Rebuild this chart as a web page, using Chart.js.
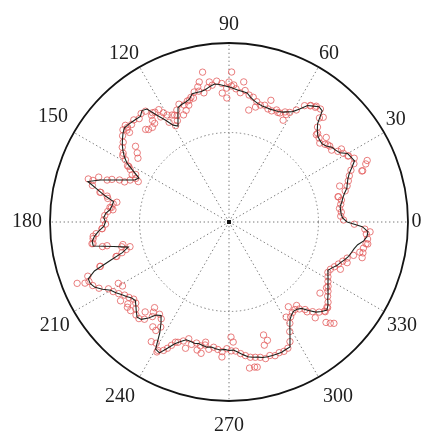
<!DOCTYPE html>
<html>
<head>
<meta charset="utf-8">
<script src="https://cdn.jsdelivr.net/npm/chart.js@4.4.1/dist/chart.umd.min.js"></script>
<style>
html,body{margin:0;padding:0;background:#fff;overflow:hidden;width:426px;height:437px;}
#wrap{width:434px;height:443px;position:absolute;left:0;top:0;}
</style>
</head>
<body>
<div id="wrap"><canvas id="c"></canvas></div>
<script>
// ---- tick labels (degrees) ----
const angleTicks = ['0','30','60','90','120','150','180','210','240','270','300','330'];

// ---- black trace: angle (deg) and normalised radius ----
const lineAngle = [0,2,4,6,8,10,12,14,16,18,20,22,24,26,28,30,32,34,36,38,40,42,44,46,48,50,52,54,56,58,
60,62,64,66,68,70,72,74,76,78,80,82,84,86,88,90,92,94,96,98,100,102,104,106,108,110,112,114,116,118,
120,122,124,126,128,130,132,134,136,138,140,142,144,146,148,150,152,154,156,158,160,162,164,166,168,170,172,174,176,178,
180,182,184,186,188,190,192,194,196,198,200,202,204,206,208,210,212,214,216,218,220,222,224,226,228,230,232,234,236,238,
240,242,244,246,248,250,252,254,256,258,260,262,264,266,268,270,272,274,276,278,280,282,284,286,288,290,292,294,296,298,
300,302,304,306,308,310,312,314,316,318,320,322,324,326,328,330,332,334,336,338,340,342,344,346,348,350,352,354,356,358];
const lineR = [
.660,.635,.628,.627,.627,.640,.650,.665,.685,.695,
.707,.725,.752,.780,.772,.765,.730,.718,.710,.690,
.679,.682,.690,.710,.740,.810,.817,.800,.785,.745,
.712,.697,.683,.676,.673,.671,.672,.674,.680,.690,
.705,.728,.733,.738,.746,.755,.762,.770,.775,.765,
.752,.745,.746,.745,.720,.712,.708,.700,.650,.607,
.625,.672,.720,.780,.790,.770,.774,.778,.783,.786,
.773,.755,.737,.715,.690,.658,.605,.560,.577,.626,
.686,.759,.820,.760,.710,.655,.660,.667,.690,.700,
.690,.700,.730,.755,.772,.770,.660,.580,.620,.700,
.800,.848,.848,.833,.800,.763,.745,.725,.708,.690,
.683,.700,.720,.739,.732,.700,.660,.646,.679,.730,
.820,.828,.785,.745,.720,.700,.700,.705,.700,.705,
.710,.705,.712,.717,.712,.718,.716,.730,.745,.760,
.767,.772,.780,.783,.784,.785,.785,.780,.777,.726,
.680,.643,.625,.615,.618,.630,.665,.700,.720,.736,
.722,.700,.684,.667,.652,.639,.626,.615,.630,.650,
.663,.680,.695,.705,.715,.730,.760,.775,.778,.745];

// ---- red circles near the trace ----
const redAngle = [1,3,5,7,9,11,13,15,17,19,21,23,25,27,29,31,33,35,37,39,41,43,45,47,49,51,53,55,57,59,
61,63,65,67,69,71,73,75,77,79,81,83,85,87,89,91,93,95,97,99,101,103,105,107,109,111,113,115,117,119,
121,123,125,127,129,131,133,135,137,139,141,143,145,147,149,151,153,155,157,159,161,163,165,167,169,171,173,175,177,179,
181,183,185,187,189,191,193,195,197,199,201,203,205,207,209,211,213,215,217,219,221,223,225,227,229,231,233,235,237,239,
241,243,245,247,249,251,253,255,257,259,261,263,265,267,269,271,273,275,277,279,281,283,285,287,289,291,293,295,297,299,
301,303,305,307,309,311,313,315,317,319,321,323,325,327,329,331,333,335,337,339,341,343,345,347,349,351,353,355,357,359];
const redR = [
.640,.625,.630,.622,.632,.640,.628,.672,.690,.705,
.795,.830,.770,.785,.760,.745,.725,.700,.705,.690,
.672,.688,.700,.725,.770,.812,.810,.792,.775,.730,
.700,.690,.672,.680,.665,.668,.682,.676,.690,.710,
.718,.740,.725,.745,.760,.748,.775,.790,.770,.760,
.735,.750,.752,.728,.715,.700,.715,.690,.635,.615,
.650,.700,.745,.775,.780,.765,.780,.770,.792,.785,
.765,.740,.728,.705,.675,.640,.585,.575,.600,.655,
.720,.795,.790,.735,.690,.655,.662,.680,.695,.700,
.690,.710,.745,.765,.775,.720,.615,.595,.660,.760,
.845,.850,.840,.815,.770,.755,.735,.712,.700,.685,
.690,.712,.735,.738,.720,.680,.645,.660,.700,.790,
.830,.805,.760,.730,.712,.690,.715,.700,.710,.700,
.720,.705,.715,.725,.708,.720,.722,.738,.752,.765,
.770,.776,.790,.780,.790,.782,.785,.778,.750,.700,
.660,.632,.618,.612,.625,.648,.685,.712,.730,.730,
.712,.690,.675,.660,.645,.632,.620,.625,.640,.655,
.672,.690,.720,.750,.765,.775,.780,.770,.760,.700];

// ---- red circles scattered off the trace ----
const redOutAngle = [99.8,101.7,103.3,83.5,88.9,89.6,87.5,97.7,92.7,90.9,80.4,77.3,71.4,66.4,62.1,61.5,55.3,53.2,48.2,44.7,40.6,37.9,32.5,29.4,24,21.4,18.4,13,21,23,
355.5,351.4,347,344.9,340.8,336.6,326.4,322,319,315,315.8,313.5,311.9,316.8,310.9,304.8,309.3,301.4,286.7,288.3,286.3,278.2,280.2,281.3,267,270.5,271.9,258.7,
256,257.5,250.8,245.8,243.8,240.6,237.3,234.1,235.6,229.3,229.8,227,221.6,220.4,218.5,215.6,210.5,208.8,201.9,202.9,199.2,197.4,196.2,194.2,192.2,190.7,188.8,185.5,182.7,174.1,
172.8,169.9,168.4,166.9,163.4,161.4,159.8,158.5,156.3,154.1,152.3,150.6,147.7,144.9,143.1,141.4,137.9,137.7,136.8,132.4,131.4,129.3,126.8,126.7,125.7,123.9,122.4,121.2,120.1,118,
116.8,115.5,113.3,110.6,109.3,107.7,106.2];
const redOutR = [.85,.80,.775,.787,.838,.782,.766,.79,.721,.693,.635,.659,.719,.67,.644,.68,.795,.802,.787,.69,.72,.70,.749,.763,.845,.80,.65,.625,.72,.74,
.79,.785,.768,.77,.698,.676,.657,.645,.725,.80,.815,.78,.72,.735,.665,.578,.60,.62,.66,.695,.716,.824,.823,.826,.755,.643,.671,.684,
.737,.75,.746,.735,.785,.82,.797,.724,.731,.634,.658,.687,.74,.741,.727,.749,.694,.707,.915,.874,.763,.655,.622,.57,.606,.694,.769,.763,.71,.652,
.67,.636,.696,.74,.822,.77,.696,.625,.555,.602,.625,.648,.70,.621,.642,.672,.767,.748,.775,.696,.685,.68,.69,.71,.736,.74,.74,.712,.69,.677,
.67,.662,.65,.668,.69,.716,.72];

// ---- origin marker ----
const centerAngle = [0];
const centerR = [0];

// ---- build radar tables (1 degree per category, counter-clockwise from 0 at right) ----
const N = 360;
const labels = [];
for (let i = 0; i < N; i++) labels.push(String((N - i) % N));
const idx = a => (N - (Math.round(a) % N)) % N;
const emptyRow = () => new Array(N).fill(null);

const lineData = emptyRow();
lineAngle.forEach((a, k) => { lineData[idx(a)] = lineR[k]; });

const redRows = [];
function addRed(angles, radii) {
  const n = Math.min(angles.length, radii.length);
  for (let k = 0; k < n; k++) {
    const i = idx(angles[k]);
    let row = redRows.find(r => r[i] === null);
    if (!row) { row = emptyRow(); redRows.push(row); }
    row[i] = radii[k];
  }
}
addRed(redAngle, redR);
addRed(redOutAngle, redOutR);

const centerData = emptyRow();
centerAngle.forEach((a, k) => { centerData[idx(a)] = centerR[k]; });

const datasets = [{
  data: lineData, borderColor: '#1d221d', borderWidth: 1.1, pointRadius: 0,
  fill: false, spanGaps: true, tension: 0
}];
redRows.forEach(row => datasets.push({
  data: row, showLine: false, pointRadius: 3.2, pointBorderWidth: 1,
  pointBorderColor: 'rgba(228,98,98,0.82)', pointBackgroundColor: 'rgba(0,0,0,0)',
  pointStyle: 'circle', fill: false
}));
datasets.push({
  data: centerData, showLine: false, pointStyle: 'rect', pointRadius: 2.8,
  pointBorderWidth: 0, pointBackgroundColor: '#111', pointBorderColor: '#111'
});

const padByAngle = {0:3.5, 30:2, 60:1, 90:6, 120:1, 150:7, 180:8, 210:5, 240:9, 270:12.5, 300:9, 330:3.5};
const isTick = i => i % 30 === 0;
const angleOf = i => (N - i) % N;

new Chart(document.getElementById('c'), {
  type: 'radar',
  data: { labels: labels, datasets: datasets },
  options: {
    responsive: true, maintainAspectRatio: false, animation: false, events: [],
    devicePixelRatio: 1,
    layout: { padding: { left: 0, right: 0, top: 9, bottom: 0 } },
    plugins: { legend: { display: false }, tooltip: { enabled: false } },
    scales: {
      r: {
        min: 0, max: 1, startAngle: 90,
        ticks: { display: false, stepSize: 0.5 },
        grid: {
          circular: true,
          color: c => (c.tick && c.tick.value === 1) ? '#141414' : '#7a7a7a',
          lineWidth: c => (c.tick && c.tick.value === 1) ? 1.8 : 1
        },
        border: { dash: c => (c.tick && c.tick.value === 1) ? [] : [1.4, 2.6] },
        angleLines: {
          color: '#7a7a7a',
          lineWidth: c => isTick(c.index) ? 1 : 0,
          borderDash: [1.4, 2.6]
        },
        pointLabels: {
          callback: (lab, i) => (isTick(i) && angleTicks.includes(lab)) ? lab : '',
          font: c => isTick(c.index) ? { family: "'Liberation Serif', 'Times New Roman', serif", size: 20 }
                                     : { family: "'Liberation Serif', serif", size: 1 },
          padding: c => isTick(c.index) ? padByAngle[angleOf(c.index)] : 0,
          color: '#1e1e1e'
        }
      }
    }
  }
});
</script>
</body>
</html>
